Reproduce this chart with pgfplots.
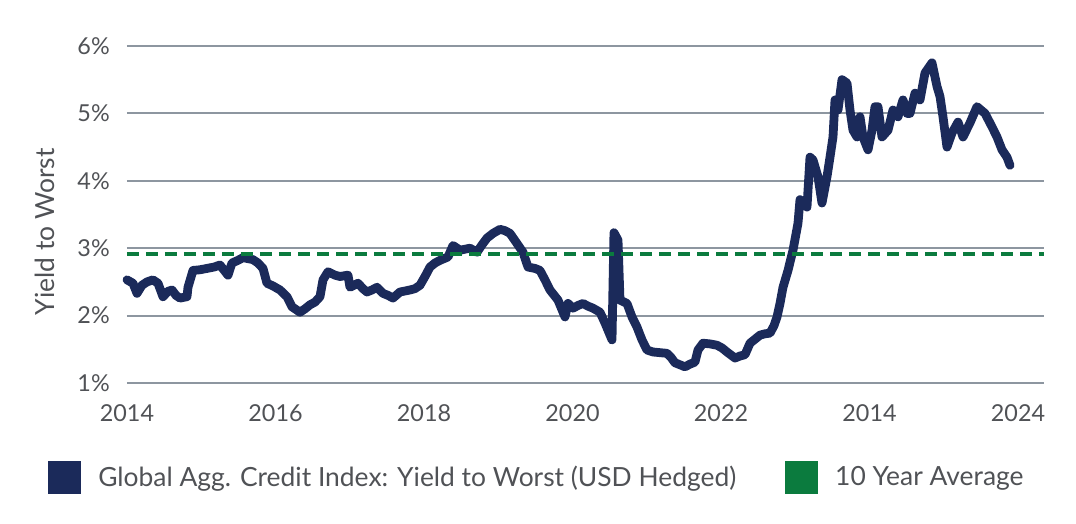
\documentclass[border=0pt]{standalone}
\usepackage{fontspec}
\setmainfont{Lato}
\usepackage{pgfplots}
\pgfplotsset{compat=1.18}
\usepackage{pgfplotstable}
\definecolor{navy}{HTML}{1B2A5A}
\definecolor{avggreen}{HTML}{0B7B3E}
\definecolor{gridgray}{HTML}{8D96A0}
\definecolor{txtgray}{HTML}{505256}

% px = horizontal position, y = yield in percent
\pgfplotstableread{
px y
127 2.53
133 2.48
137 2.33
142 2.45
147 2.50
153 2.53
158 2.48
163 2.28
168 2.36
172 2.38
176 2.30
180 2.26
187 2.28
188 2.42
193 2.67
200 2.68
207 2.70
214 2.72
220 2.75
228 2.60
232 2.78
238 2.82
243 2.86
253 2.83
258 2.78
263 2.70
267 2.48
273 2.44
280 2.38
287 2.28
292 2.13
300 2.05
305 2.10
310 2.16
315 2.20
320 2.28
323 2.53
328 2.65
335 2.60
340 2.58
348 2.60
350 2.42
358 2.48
363 2.40
367 2.35
372 2.38
377 2.42
383 2.33
388 2.30
393 2.26
400 2.35
410 2.38
415 2.40
420 2.45
425 2.58
430 2.72
435 2.78
440 2.82
448 2.87
453 3.04
460 2.97
470 3.00
477 2.94
482 3.05
487 3.15
493 3.22
500 3.28
505 3.26
510 3.22
517 3.07
523 2.94
528 2.72
535 2.70
540 2.67
545 2.53
550 2.38
558 2.23
565 1.98
568 2.18
573 2.11
578 2.15
583 2.18
588 2.14
593 2.11
600 2.05
605 1.89
612 1.64
614 3.23
618 3.12
620 2.23
627 2.18
632 1.98
637 1.83
642 1.64
647 1.49
653 1.46
660 1.45
667 1.44
671 1.38
675 1.30
680 1.27
685 1.24
690 1.28
695 1.31
698 1.49
703 1.59
710 1.58
717 1.56
722 1.52
727 1.46
735 1.37
740 1.40
745 1.42
750 1.59
755 1.65
760 1.71
765 1.73
770 1.74
774 1.85
777 1.98
780 2.18
783 2.42
788 2.67
793 2.97
798 3.37
800 3.72
807 3.61
810 4.35
813 4.31
818 4.06
822 3.67
827 4.06
830 4.35
833 4.65
835 5.20
838 5.05
842 5.50
847 5.45
850 5.05
853 4.75
857 4.65
860 4.95
863 4.65
868 4.46
872 4.75
875 5.10
878 5.10
882 4.65
888 4.75
893 5.05
898 4.95
903 5.20
907 5.00
910 5.00
915 5.30
920 5.20
925 5.60
932 5.75
937 5.40
940 5.25
943 4.95
947 4.50
952 4.71
958 4.87
963 4.65
970 4.86
977 5.10
985 5.00
992 4.80
997 4.65
1002 4.46
1007 4.35
1010 4.23
}\yieldtable

\begin{document}
\begin{tikzpicture}[x=1pt,y=1pt]
\path[use as bounding box] (0,0) rectangle (807,393);
\begin{axis}[
  at={(95.25pt,105.75pt)}, anchor=south west,
  scale only axis, width=687.75pt, height=252.75pt,
  xmin=2014, xmax=2026.35, ymin=1, ymax=6,
  xtick={2014,2016,2018,2020,2022,2024,2026},
  xticklabels={2014,2016,2018,2020,2022,2014,2024},
  ytick={1,2,3,4,5,6},
  yticklabels={1\%,2\%,3\%,4\%,5\%,6\%},
  ymajorgrids, major grid style={gridgray, line width=1.5pt},
  axis line style={draw=none}, major tick style={draw=none},
  /pgf/number format/assume math mode=true,
  tick label style={font=\fontsize{17.5}{20}\selectfont, text=txtgray},
  xticklabel style={anchor=north, inner sep=0pt, yshift=-15.75pt},
  yticklabel style={anchor=east, inner sep=0pt, xshift=-12.75pt},
  ylabel={Yield to Worst},
  ylabel style={at={(axis description cs:-0.0894,0.448)}, anchor=center, font=\fontsize{19.8}{22}\selectfont, text=txtgray},
  clip=false,
  legend columns=2,
  legend style={at={(axis description cs:-0.0861,-0.279)}, anchor=west, draw=none, fill=none, inner sep=0pt,
    font=\fontsize{19.8}{22}\selectfont, text=txtgray, nodes={inner sep=0pt},
    /tikz/every odd column/.append style={column sep=12.75pt},
    /tikz/every even column/.append style={column sep=36.75pt}},
]
\addplot[navy, line width=6.6pt, line join=round, line cap=round,
  legend image code/.code={\path[fill=navy, draw=none] (0pt,-12.375pt) rectangle (24.75pt,12.375pt);}]
  table[x expr={2014+(\thisrow{px}-127)/74.25}, y=y] {\yieldtable};
\addlegendentry{Global Agg. Credit Index: Yield to Worst (USD Hedged)}
\addplot[avggreen, line width=2.7pt, dash pattern=on 9pt off 5.25pt,
  legend image code/.code={\path[fill=avggreen, draw=none] (0pt,-12.375pt) rectangle (24.75pt,12.375pt);}]
  coordinates {(2014,2.91) (2026.35,2.91)};
\addlegendentry{10 Year Average}
\end{axis}
\end{tikzpicture}
\end{document}
